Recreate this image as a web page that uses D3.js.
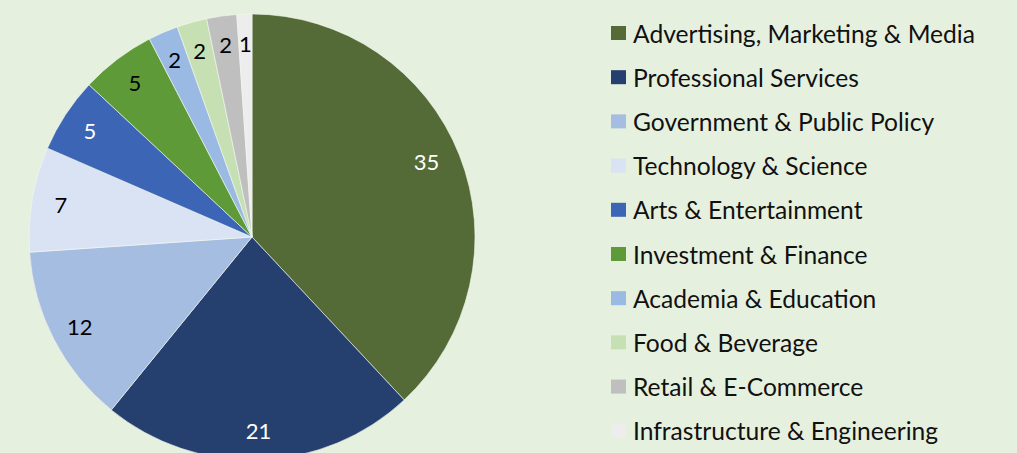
<!DOCTYPE html>
<html><head><meta charset="utf-8">
<script src="https://cdn.jsdelivr.net/npm/d3@7"></script>
<style>body{margin:0;background:#E6F0DE;}svg{display:block;}</style>
</head><body>
<svg id="c" width="1017" height="453"></svg>
<script>
const categories = ["Advertising, Marketing & Media","Professional Services","Government & Public Policy","Technology & Science","Arts & Entertainment","Investment & Finance","Academia & Education","Food & Beverage","Retail & E-Commerce","Infrastructure & Engineering"];
const values = [35,21,12,7,5,5,2,2,2,1];
const colors = ["#546B38","#253F6E","#A6BDE2","#DAE3F3","#3C66B5","#5E9A38","#9ABAE3","#C6E0B4","#BFBFBF","#EDEDED"];
const labelColors = ["#fff","#fff","#000","#000","#fff","#000","#000","#000","#000","#000"];

const svg = d3.select("#c");
svg.append("rect").attr("width",1017).attr("height",453).attr("fill","#E6F0DE");
const cx = 252, cy = 237, R = 223;
const pie = d3.pie().sort(null).value(d=>d.v);
const data = pie(categories.map((c,i)=>({c, v:values[i], i})));
const arc = d3.arc().innerRadius(0).outerRadius(R);
const labArc = d3.arc().innerRadius(194).outerRadius(194);
const g = svg.append("g").attr("transform",`translate(${cx},${cy})`);
g.selectAll("path").data(data).join("path")
  .attr("d",arc).attr("fill",d=>colors[d.data.i])
  .attr("stroke","#f4f8f0").attr("stroke-width",0.6);
g.selectAll("text").data(data).join("text")
  .attr("transform",d=>{
    const c = labArc.centroid(d);
    if (d.data.i===0) { c[0]-=6; c[1]-=4; }
    return `translate(${c})`;
  })
  .attr("text-anchor","middle").attr("dominant-baseline","central")
  .attr("font-family","Lato, 'Open Sans', sans-serif").attr("font-size",22)
  .attr("fill",d=>labelColors[d.data.i])
  .text(d=>d.data.v);

const lg = svg.append("g").attr("transform","translate(611,33)");
const step = 44.2;
const items = lg.selectAll("g").data(categories).join("g")
  .attr("transform",(d,i)=>`translate(0,${i*step})`);
items.append("rect").attr("x",0).attr("y",-7).attr("width",15).attr("height",14)
  .attr("fill",(d,i)=>colors[i]);
items.append("text").attr("x",22).attr("y",0).attr("dominant-baseline","central")
  .attr("font-family","Lato, 'Open Sans', sans-serif").attr("font-size",24.6).attr("fill","#111")
  .text(d=>d);
</script>
</body></html>
